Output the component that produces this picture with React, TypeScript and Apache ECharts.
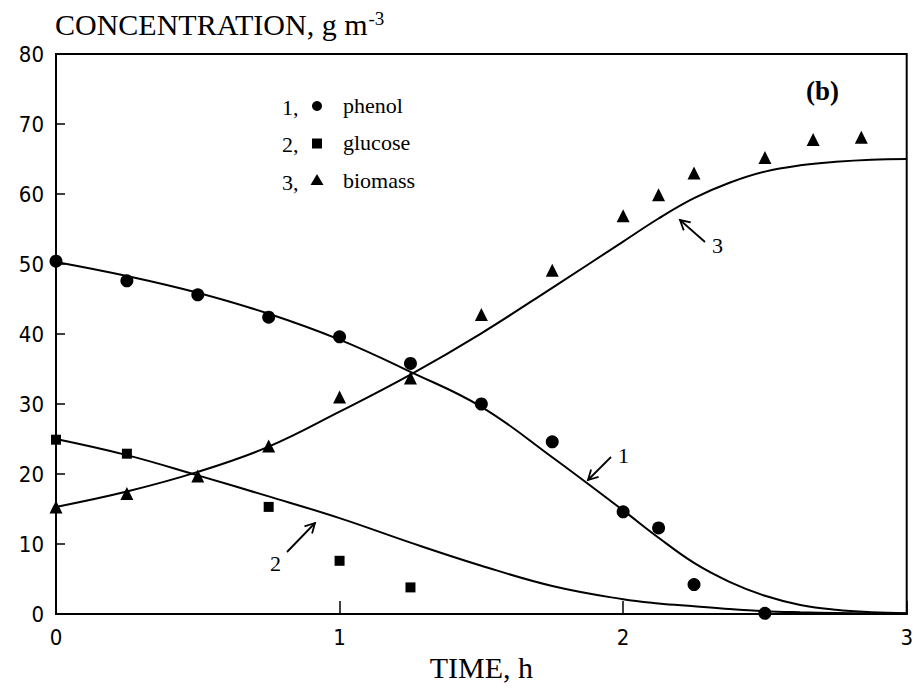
import React, { useEffect, useRef } from "react";
import * as echarts from "echarts";

// ---- Data ----
const sampleTimes = [0, 0.25, 0.5, 0.75, 1, 1.25, 1.5, 1.75, 2, 2.125, 2.25, 2.5];
const phenolObs = [50.4, 47.6, 45.6, 42.4, 39.6, 35.8, 30.0, 24.6, 14.6, 12.3, 4.2, 0.1];

const glucoseTimes = [0, 0.25, 0.75, 1, 1.25];
const glucoseObs = [24.9, 22.9, 15.3, 7.6, 3.8];

const biomassTimes = [0, 0.25, 0.5, 0.75, 1, 1.25, 1.5, 1.75, 2, 2.125, 2.25, 2.5, 2.67, 2.84];
const biomassObs = [15.3, 17.2, 19.7, 24.0, 31.0, 33.7, 42.8, 49.1, 56.9, 59.9, 63.0, 65.2, 67.8, 68.1];

const fitTimes = [0, 0.25, 0.5, 0.75, 1, 1.25, 1.5, 1.75, 2, 2.125, 2.25, 2.375, 2.5, 2.625, 2.75, 2.875, 3];
const phenolFit = [50.3, 48.3, 45.9, 42.9, 39.2, 34.6, 29.6, 22.4, 14.8, 10.9, 7.3, 4.6, 2.6, 1.3, 0.6, 0.25, 0.1];
const glucoseFit = [25.0, 22.7, 19.8, 16.8, 13.7, 10.2, 6.9, 4.0, 2.1, 1.5, 1.1, 0.7, 0.4, 0.25, 0.15, 0.08, 0.05];
const biomassFit = [15.3, 17.5, 20.3, 23.9, 28.9, 34.2, 40.1, 46.6, 53.2, 56.5, 59.4, 61.6, 63.2, 64.1, 64.6, 64.9, 65.0];

const xTicks = { min: 0, max: 3, interval: 1 };
const yTicks = { min: 0, max: 80, interval: 10 };

const legendItems = [
  { num: "1,", name: "phenol", symbol: "circle" },
  { num: "2,", name: "glucose", symbol: "square" },
  { num: "3,", name: "biomass", symbol: "triangle" },
];

const SERIF = "'Liberation Serif', 'DejaVu Serif', serif";
const SANS = "'DejaVu Sans Condensed', 'Liberation Sans', Arial, sans-serif";

const pairs = (xs: number[], ys: number[]) => xs.map((x, i) => [x, ys[i]]);

function arrow(tail: [number, number], head: [number, number], len = 11) {
  const dx = tail[0] - head[0];
  const dy = tail[1] - head[1];
  const a = Math.atan2(dy, dx);
  const s = 0.5;
  const p1 = [head[0] + len * Math.cos(a + s), head[1] + len * Math.sin(a + s)];
  const p2 = [head[0] + len * Math.cos(a - s), head[1] + len * Math.sin(a - s)];
  return [
    { type: "line", shape: { x1: tail[0], y1: tail[1], x2: head[0], y2: head[1] }, style: { stroke: "#000", lineWidth: 1.8 } },
    { type: "polyline", shape: { points: [p1, head, p2] }, style: { stroke: "#000", lineWidth: 1.8, fill: null } },
  ];
}

export default function App() {
  const ref = useRef<HTMLDivElement>(null);
  useEffect(() => {
    if (!ref.current) return;
    const chart = echarts.init(ref.current, null, { renderer: "svg" });

    const legendGraphics: any[] = [];
    const lx = 282, ly0 = 108, dy = 37.5;
    legendItems.forEach((it, i) => {
      const y = ly0 + i * dy;
      legendGraphics.push({ type: "text", left: lx, top: y - 12, style: { text: it.num, font: `22px ${SERIF}`, fill: "#000" } });
      const cx = 317;
      if (it.symbol === "circle") legendGraphics.push({ type: "circle", shape: { cx, cy: y - 2, r: 5 }, style: { fill: "#000" } });
      if (it.symbol === "square") legendGraphics.push({ type: "rect", shape: { x: cx - 5, y: y - 7, width: 10, height: 10 }, style: { fill: "#000" } });
      if (it.symbol === "triangle") legendGraphics.push({ type: "polygon", shape: { points: [[cx, y - 9], [cx - 6.5, y + 2], [cx + 6.5, y + 2]] }, style: { fill: "#000" } });
      legendGraphics.push({ type: "text", left: 343, top: y - 14, style: { text: it.name, font: `22px ${SERIF}`, fill: "#000" } });
    });

    const annot: any[] = [
      ...arrow([611, 457], [588, 480]),
      { type: "text", left: 618, top: 444, style: { text: "1", font: `22px ${SERIF}`, fill: "#000" } },
      ...arrow([287, 552], [315, 523]),
      { type: "text", left: 270, top: 552, style: { text: "2", font: `22px ${SERIF}`, fill: "#000" } },
      ...arrow([705, 242], [680, 220]),
      { type: "text", left: 712, top: 234, style: { text: "3", font: `22px ${SERIF}`, fill: "#000" } },
      { type: "text", left: 806, top: 77, style: { text: "(b)", font: `bold 27px ${SERIF}`, fill: "#000" } },
    ];

    const markerStyle = { color: "#000", opacity: 1 };

    chart.setOption({
      animation: false,
      backgroundColor: "#fff",
      title: {
        text: "{a|CONCENTRATION, g m}{s|-3}",
        left: 55,
        top: 9,
        padding: 0,
        textStyle: {
          fontWeight: "normal",
          rich: {
            a: { fontFamily: SERIF, fontSize: 30, fontWeight: "normal", color: "#000" },
            s: { fontFamily: SERIF, fontSize: 19, fontWeight: "normal", color: "#000", verticalAlign: "top", padding: [0, 0, 12, 1] },
          },
        },
      },
      grid: { left: 56, right: 8, top: 54, bottom: 78, show: true, borderColor: "#000", borderWidth: 2, backgroundColor: "transparent" },
      xAxis: {
        type: "value",
        min: xTicks.min,
        max: xTicks.max,
        interval: xTicks.interval,
        name: "TIME, h",
        nameLocation: "middle",
        nameGap: 38,
        nameTextStyle: { fontFamily: SERIF, fontSize: 30, color: "#000" },
        axisLine: { lineStyle: { color: "#000", width: 2 } },
        axisTick: { inside: true, length: 13, lineStyle: { color: "#000", width: 1.5 } },
        axisLabel: { fontFamily: SANS, fontSize: 22, color: "#000", margin: 12 },
        splitLine: { show: false },
      },
      yAxis: {
        type: "value",
        min: yTicks.min,
        max: yTicks.max,
        interval: yTicks.interval,
        axisLine: { show: true, lineStyle: { color: "#000", width: 2 } },
        axisTick: { show: true, inside: true, length: 9, lineStyle: { color: "#000", width: 1.5 } },
        axisLabel: { fontFamily: SANS, fontSize: 22, color: "#000", margin: 12 },
        splitLine: { show: false },
      },
      series: [
        { name: "phenol fit", type: "line", data: pairs(fitTimes, phenolFit), smooth: 0.4, showSymbol: false, lineStyle: { color: "#000", width: 2 }, z: 2 },
        { name: "glucose fit", type: "line", data: pairs(fitTimes, glucoseFit), smooth: 0.4, showSymbol: false, lineStyle: { color: "#000", width: 2 }, z: 2 },
        { name: "biomass fit", type: "line", data: pairs(fitTimes, biomassFit), smooth: 0.4, showSymbol: false, lineStyle: { color: "#000", width: 2 }, z: 2 },
        { name: "phenol", type: "scatter", data: pairs(sampleTimes, phenolObs), symbol: "circle", symbolSize: 13, itemStyle: markerStyle, z: 3 },
        { name: "glucose", type: "scatter", data: pairs(glucoseTimes, glucoseObs), symbol: "rect", symbolSize: 10, itemStyle: markerStyle, z: 3 },
        { name: "biomass", type: "scatter", data: pairs(biomassTimes, biomassObs), symbol: "triangle", symbolSize: 13, itemStyle: markerStyle, z: 3 },
      ],
      graphic: [...legendGraphics, ...annot],
    });
    return () => chart.dispose();
  }, []);
  return <div ref={ref} style={{ position: "fixed", left: 0, top: 0, width: 916, height: 692 }} />;
}
